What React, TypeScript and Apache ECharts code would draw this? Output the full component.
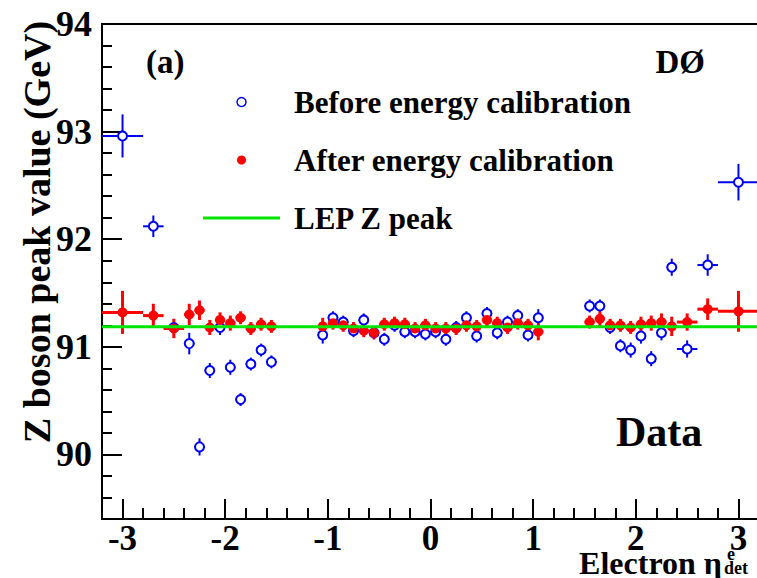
import React, { useEffect, useRef } from "react";
import * as echarts from "echarts";

// Bin centres in electron eta_det and half bin widths
const etaCenters = [
  -3.0, -2.7, -2.5, -2.35, -2.25, -2.15, -2.05, -1.95, -1.85, -1.75, -1.65, -1.55,
  -1.05, -0.95, -0.85, -0.75, -0.65, -0.55, -0.45, -0.35, -0.25, -0.15, -0.05,
  0.05, 0.15, 0.25, 0.35, 0.45, 0.55, 0.65, 0.75, 0.85, 0.95, 1.05,
  1.55, 1.65, 1.75, 1.85, 1.95, 2.05, 2.15, 2.25, 2.35, 2.5, 2.7, 3.0,
];
const etaHalfWidths = [
  0.2, 0.1, 0.1, 0.05, 0.05, 0.05, 0.05, 0.05, 0.05, 0.05, 0.05, 0.05,
  0.05, 0.05, 0.05, 0.05, 0.05, 0.05, 0.05, 0.05, 0.05, 0.05, 0.05,
  0.05, 0.05, 0.05, 0.05, 0.05, 0.05, 0.05, 0.05, 0.05, 0.05, 0.05,
  0.05, 0.05, 0.05, 0.05, 0.05, 0.05, 0.05, 0.05, 0.05, 0.1, 0.1, 0.2,
];

// Before energy calibration (GeV)
const beforeValues = [
  92.96, 92.12, 91.18, 91.03, 90.07, 90.78, 91.18, 90.81, 90.51, 90.84, 90.97, 90.86,
  91.11, 91.27, 91.23, 91.15, 91.25, 91.13, 91.07, 91.2, 91.14, 91.14, 91.12,
  91.14, 91.07, 91.18, 91.27, 91.1, 91.31, 91.13, 91.23, 91.29, 91.11, 91.27,
  91.38, 91.38, 91.18, 91.01, 90.97, 91.1, 90.89, 91.13, 91.74, 90.98, 91.76, 92.53,
];
const beforeErrors = [
  0.2, 0.1, 0.08, 0.1, 0.08, 0.07, 0.07, 0.07, 0.06, 0.06, 0.06, 0.06,
  0.08, 0.06, 0.06, 0.06, 0.06, 0.06, 0.06, 0.06, 0.06, 0.06, 0.06,
  0.06, 0.06, 0.06, 0.06, 0.06, 0.06, 0.06, 0.06, 0.06, 0.06, 0.08,
  0.06, 0.06, 0.06, 0.06, 0.07, 0.07, 0.07, 0.07, 0.08, 0.08, 0.1, 0.17,
];

// After energy calibration (GeV)
const afterValues = [
  91.32, 91.29, 91.17, 91.3, 91.34, 91.18, 91.25, 91.22, 91.27, 91.17, 91.21, 91.19,
  91.19, 91.22, 91.2, 91.17, 91.15, 91.13, 91.21, 91.22, 91.21, 91.17, 91.2,
  91.17, 91.17, 91.17, 91.2, 91.19, 91.25, 91.22, 91.18, 91.22, 91.2, 91.14,
  91.23, 91.26, 91.2, 91.2, 91.18, 91.21, 91.22, 91.23, 91.19, 91.23, 91.35, 91.33,
];
const afterErrors = [
  0.2, 0.11, 0.09, 0.1, 0.09, 0.07, 0.07, 0.07, 0.06, 0.06, 0.06, 0.06,
  0.08, 0.06, 0.06, 0.06, 0.06, 0.06, 0.06, 0.06, 0.06, 0.06, 0.06,
  0.06, 0.06, 0.06, 0.06, 0.06, 0.06, 0.06, 0.06, 0.06, 0.06, 0.08,
  0.06, 0.07, 0.06, 0.06, 0.06, 0.07, 0.07, 0.08, 0.09, 0.08, 0.1, 0.19,
];

const LEP_Z_PEAK = 91.1876;
const X_RANGE = [-3.2, 3.2];
const Y_RANGE = [89.4, 94];

const SERIF = "'Liberation Serif', 'Times New Roman', serif";
const BLUE = "#0000f0";
const RED = "#ff0000";
const GREEN = "#00e600";

const NAME_BEFORE = "Before energy calibration";
const NAME_AFTER = "After energy calibration";
const NAME_LEP = "LEP Z peak";

function errorRenderer(color: string, width: number) {
  return (params: any, api: any) => {
    const x = api.value(0);
    const y = api.value(1);
    const e = api.value(2);
    const h = api.value(3);
    const top = api.coord([x, y + e]);
    const bot = api.coord([x, y - e]);
    const l = api.coord([x - h, y]);
    const r = api.coord([x + h, y]);
    const style = { stroke: color, lineWidth: width };
    return {
      type: "group",
      children: [
        { type: "line", shape: { x1: top[0], y1: top[1], x2: bot[0], y2: bot[1] }, style },
        { type: "line", shape: { x1: l[0], y1: l[1], x2: r[0], y2: r[1] }, style },
      ],
    };
  };
}

const intLabel = (v: number) => {
  const r = Math.round(v);
  return Math.abs(v - r) < 1e-6 ? String(r) : "";
};

export default function App() {
  const ref = useRef<HTMLDivElement>(null);
  useEffect(() => {
    if (!ref.current) return;
    const chart = echarts.init(ref.current, null, { renderer: "svg" });
    const beforeErrData = etaCenters.map((x, i) => [x, beforeValues[i], beforeErrors[i], etaHalfWidths[i]]);
    const afterErrData = etaCenters.map((x, i) => [x, afterValues[i], afterErrors[i], etaHalfWidths[i]]);
    const option: any = {
      animation: false,
      backgroundColor: "#ffffff",
      grid: {
        left: 102,
        top: 24,
        width: 657,
        height: 495,
        show: true,
        borderColor: "#000",
        borderWidth: 2,
        backgroundColor: "transparent",
        containLabel: false,
        outerBoundsMode: "none",
      },
      xAxis: [
        {
          type: "value",
          position: "bottom",
          min: X_RANGE[0],
          max: X_RANGE[1],
          axisLine: { show: true, onZero: false, lineStyle: { color: "#000", width: 2 } },
          axisTick: { show: true, inside: true, length: 20, lineStyle: { color: "#000", width: 2 } },
          axisLabel: {
            fontFamily: SERIF,
            fontWeight: "bold",
            fontSize: 35,
            lineHeight: 22,
            color: "#000",
            margin: 8,
            showMinLabel: false,
            showMaxLabel: false,
            formatter: intLabel,
          },
          splitLine: { show: false },
          minorTick: { show: false },
        },
        {
          type: "value",
          position: "bottom",
          min: X_RANGE[0],
          max: X_RANGE[1],
          interval: 0.2,
          axisLine: { show: false, onZero: false },
          axisTick: { show: true, inside: true, length: 11, lineStyle: { color: "#000", width: 2 } },
          axisLabel: { show: false },
          splitLine: { show: false },
        },
      ],
      yAxis: [
        {
          type: "value",
          position: "left",
          min: Y_RANGE[0],
          max: Y_RANGE[1],
          axisLine: { show: true, onZero: false, lineStyle: { color: "#000", width: 2 } },
          axisTick: { show: true, inside: true, length: 20, lineStyle: { color: "#000", width: 2 } },
          axisLabel: {
            fontFamily: SERIF,
            fontWeight: "bold",
            fontSize: 36,
            color: "#000",
            margin: 10,
            showMinLabel: false,
            formatter: intLabel,
          },
          splitLine: { show: false },
          minorTick: { show: false },
        },
        {
          type: "value",
          position: "left",
          min: Y_RANGE[0],
          max: Y_RANGE[1],
          interval: 0.2,
          axisLine: { show: false, onZero: false },
          axisTick: { show: true, inside: true, length: 10, lineStyle: { color: "#000", width: 2 } },
          axisLabel: { show: false },
          splitLine: { show: false },
        },
      ],
      legend: {
        orient: "vertical",
        left: 203,
        top: 84,
        padding: 0,
        itemWidth: 77,
        itemHeight: 9,
        itemGap: 22,
        selectedMode: false,
        textStyle: {
          fontFamily: SERIF,
          fontWeight: "bold",
          fontSize: 31,
          color: "#000",
          lineHeight: 36,
          padding: [0, 0, 0, 9],
        },
        data: [
          { name: NAME_BEFORE, icon: "circle", itemStyle: { color: "#ffffff", borderColor: BLUE, borderWidth: 1.5 } },
          { name: NAME_AFTER, icon: "circle", itemStyle: { color: RED } },
          { name: NAME_LEP, icon: "path://M0,0L77,0L77,3L0,3Z", itemStyle: { color: GREEN, borderWidth: 0 } },
        ],
      },
      series: [
        {
          name: "before-errors",
          type: "custom",
          xAxisIndex: 0,
          yAxisIndex: 0,
          renderItem: errorRenderer(BLUE, 2),
          encode: { x: 0, y: 1 },
          data: beforeErrData,
          silent: true,
        },
        {
          name: NAME_BEFORE,
          type: "scatter",
          xAxisIndex: 0,
          yAxisIndex: 0,
          symbol: "circle",
          symbolSize: 9,
          itemStyle: { color: "#ffffff", borderColor: BLUE, borderWidth: 2, opacity: 1 },
          data: etaCenters.map((x, i) => [x, beforeValues[i]]),
        },
        {
          name: "after-errors",
          type: "custom",
          xAxisIndex: 0,
          yAxisIndex: 0,
          renderItem: errorRenderer(RED, 3),
          encode: { x: 0, y: 1 },
          data: afterErrData,
          silent: true,
        },
        {
          name: NAME_AFTER,
          type: "scatter",
          xAxisIndex: 0,
          yAxisIndex: 0,
          symbol: "circle",
          symbolSize: 10,
          itemStyle: { color: RED, opacity: 1 },
          data: etaCenters.map((x, i) => [x, afterValues[i]]),
        },
        {
          name: NAME_LEP,
          type: "line",
          xAxisIndex: 0,
          yAxisIndex: 0,
          symbol: "none",
          showSymbol: false,
          lineStyle: { color: GREEN, width: 3 },
          itemStyle: { color: GREEN },
          data: [
            [X_RANGE[0], LEP_Z_PEAK],
            [X_RANGE[1], LEP_Z_PEAK],
          ],
        },
      ],
      graphic: [
        {
          type: "text",
          x: 37,
          y: 232,
          rotation: Math.PI / 2,
          style: {
            text: "Z boson peak value (GeV)",
            fontFamily: SERIF,
            fontWeight: "bold",
            fontSize: 38,
            fill: "#000",
            align: "center",
            verticalAlign: "middle",
          },
        },
        {
          type: "text",
          x: 722,
          y: 563,
          style: {
            text: "Electron η",
            fontFamily: SERIF,
            fontWeight: "bold",
            fontSize: 32,
            lineHeight: 26,
            fill: "#000",
            align: "right",
            verticalAlign: "middle",
          },
        },
        {
          type: "text",
          x: 727,
          y: 554,
          style: { text: "e", fontFamily: SERIF, fontWeight: "bold", fontSize: 18, lineHeight: 13, fill: "#000", align: "left", verticalAlign: "middle" },
        },
        {
          type: "text",
          x: 724,
          y: 568,
          style: { text: "det", fontFamily: SERIF, fontWeight: "bold", fontSize: 18, lineHeight: 14, fill: "#000", align: "left", verticalAlign: "middle" },
        },
        {
          type: "text",
          x: 146,
          y: 62,
          style: { text: "(a)", fontFamily: SERIF, fontWeight: "bold", fontSize: 33, fill: "#000", align: "left", verticalAlign: "middle" },
        },
        {
          type: "text",
          x: 705,
          y: 62,
          style: { text: "DØ", fontFamily: SERIF, fontWeight: "bold", fontSize: 33, fill: "#000", align: "right", verticalAlign: "middle" },
        },
        {
          type: "text",
          x: 616,
          y: 432,
          style: { text: "Data", fontFamily: SERIF, fontWeight: "bold", fontSize: 42, fill: "#000", align: "left", verticalAlign: "middle" },
        },
      ],
    };
    chart.setOption(option);
    return () => chart.dispose();
  }, []);
  return (
    <div
      ref={ref}
      style={{ position: "fixed", left: 0, top: 0, width: 757, height: 578, background: "#fff" }}
    />
  );
}
